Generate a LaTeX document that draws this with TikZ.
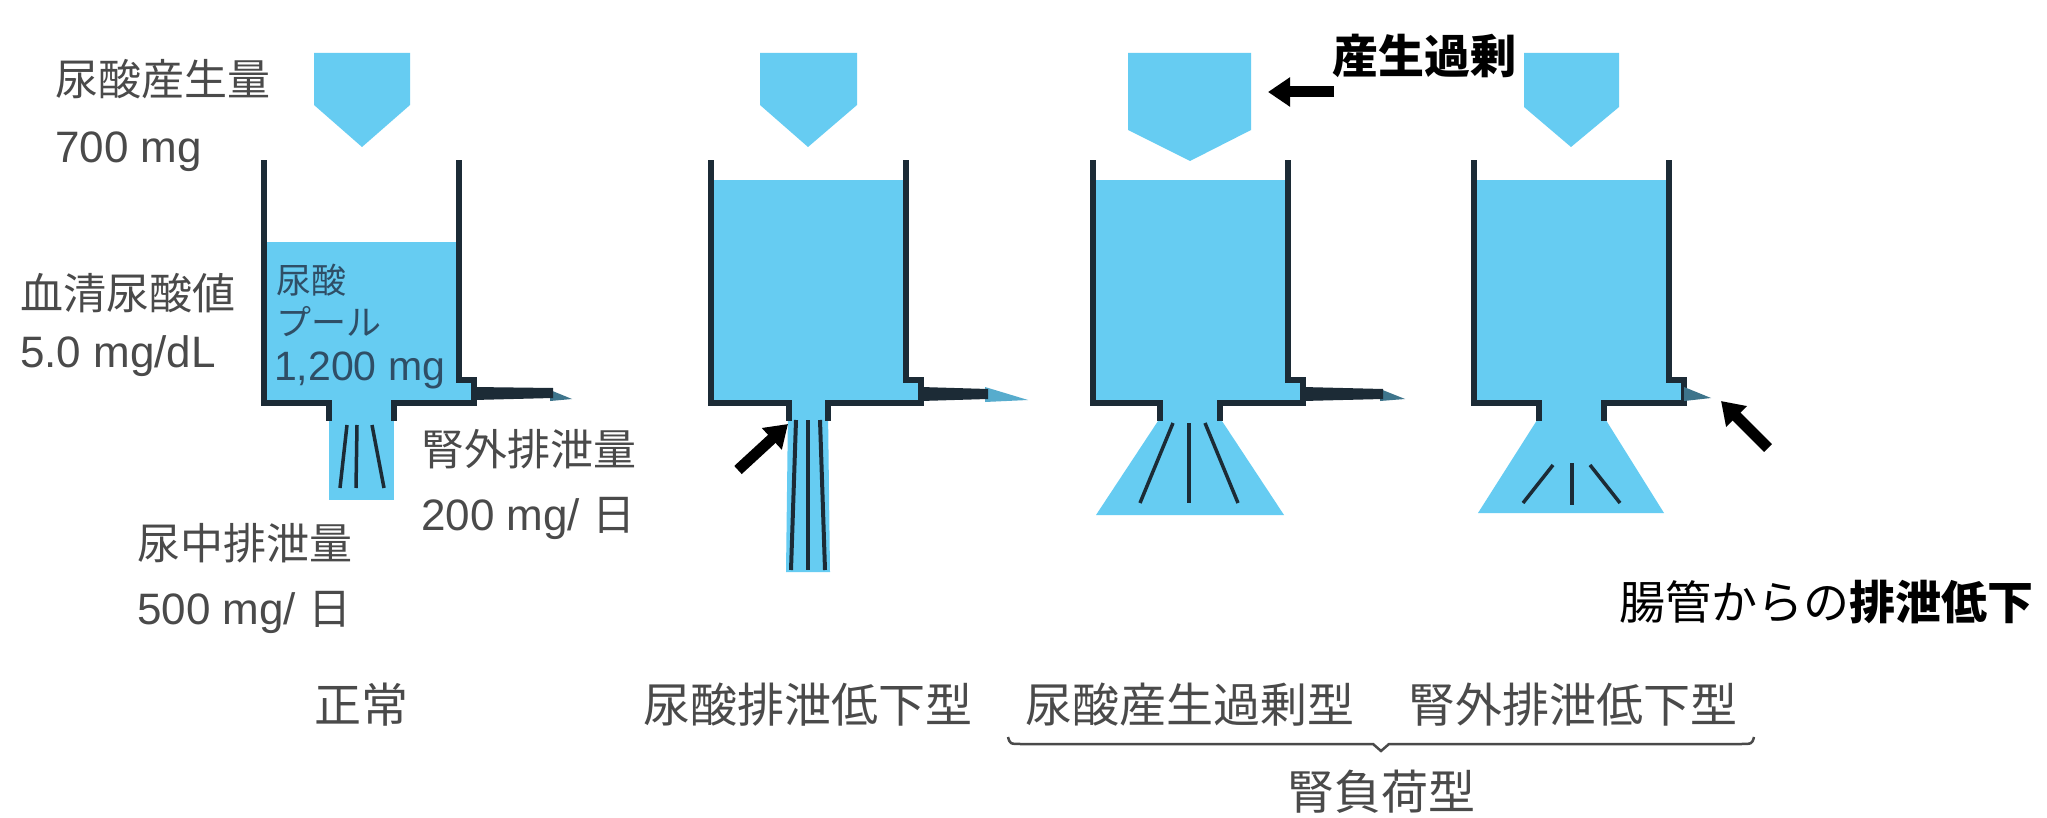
\documentclass[tikz,border=0pt]{standalone}
\usepackage{fontspec}
\setmainfont{Liberation Sans}
\newfontfamily\jp{Noto Sans CJK JP}
\usetikzlibrary{arrows.meta}
\definecolor{water}{HTML}{66CCF2}
\definecolor{wall}{HTML}{1C2B36}
\definecolor{lbl}{HTML}{4A4A4A}
\definecolor{pooltxt}{HTML}{2F4E66}
\newcommand\latin{\rmfamily\fontsize{44}{48}\selectfont}
\newcommand\tankbody[5]{%
  \fill[water] (#1,#5) rectangle (#2,403);
  \fill[water] (#2,380) rectangle (#2+15,403);
  \fill[water] (#3,400) rectangle (#4,418);
  \draw[wallline] (#1,163) -- (#1,403) -- (#3,403) -- (#3,418);
  \draw[wallline] (#4,418) -- (#4,403) -- (#2+15,403) -- (#2+15,380) -- (#2,380) -- (#2,163);
}
\begin{document}
\begin{tikzpicture}[x=1pt,y=-1pt,
  lab/.style={inner sep=0pt, anchor=west, text=lbl, font=\jp\fontsize{43}{48}\selectfont,
              text height=36pt, text depth=6pt},
  captext/.style={inner sep=0pt, anchor=center, text=lbl, font=\jp\fontsize{47}{52}\selectfont,
              text height=40pt, text depth=6pt},
  pooltext/.style={inner sep=0pt, anchor=west, text=pooltxt, font=\jp\fontsize{35}{38}\selectfont,
              text height=29pt, text depth=5pt},
  note/.style={inner sep=0pt, anchor=west, text=black, font=\jp\fontsize{46}{50}\selectfont,
              text height=39pt, text depth=6pt},
  wallline/.style={draw=wall, line width=6pt, line join=miter, line cap=rect},
  flow/.style={draw=wall, line width=3.5pt},
  pointer/.style={draw=black, line width=11pt, -{Triangle[length=22pt,width=28pt]}},
  brace/.style={draw=lbl, line width=2.5pt}
]
\useasboundingbox (0,0) rectangle (2047,818);
\fill[white] (0,0) rectangle (2047,818);

% ---------- Tank 1 (normal)
\fill[water] (314,53) -- (410,53) -- (410,105) -- (362,147) -- (314,105) -- cycle;
\fill[water] (329,410) rectangle (394,500);
\tankbody{264}{459}{329}{394}{242}
\draw[flow] (347,425) -- (340,488);
\draw[flow] (357,425) -- (356,488);
\draw[flow] (372,425) -- (384,488);
\fill[water!45!wall] (550,390) -- (572,399) -- (550,401) -- cycle;
\fill[wall] (474,387) -- (553,388) -- (553,398) -- (474,400) -- cycle;

% ---------- Tank 2
\fill[water] (760,53) -- (857,53) -- (857,105) -- (808,147) -- (760,105) -- cycle;
\fill[water] (788,410) -- (828,410) -- (830,572) -- (786,572) -- cycle;
\tankbody{711}{906}{789}{828}{180}
\draw[flow, line width=4pt] (796,420) -- (791,570);
\draw[flow, line width=4pt] (808,420) -- (808,570);
\draw[flow, line width=4pt] (820,420) -- (825,570);
\fill[water!80!wall] (985,387) -- (1028,400) -- (985,402) -- cycle;
\fill[wall] (921,387) -- (988,389) -- (988,399) -- (921,401) -- cycle;

% ---------- Tank 3
\fill[water] (1128,53) -- (1251,53) -- (1251,130) -- (1190,161) -- (1128,130) -- cycle;
\fill[water] (1160,410) -- (1220,410) -- (1220,418) -- (1284,515) -- (1096,515) -- (1160,418) -- cycle;
\tankbody{1093}{1288}{1160}{1220}{180}
\draw[flow] (1173,423) -- (1140,503);
\draw[flow] (1189,423) -- (1189,503);
\draw[flow] (1205,423) -- (1238,503);
\fill[water!45!wall] (1380,389) -- (1405,399) -- (1380,401) -- cycle;
\fill[wall] (1303,387) -- (1383,389) -- (1383,399) -- (1303,401) -- cycle;

% ---------- Tank 4
\fill[water] (1524,53) -- (1619,53) -- (1619,107) -- (1571,147) -- (1524,107) -- cycle;
\fill[water] (1539,410) -- (1604,410) -- (1604,417) -- (1664,513) -- (1478,513) -- (1539,417) -- cycle;
\tankbody{1474}{1669}{1539}{1604}{180}
\draw[flow] (1553,465) -- (1523,503);
\draw[flow] (1572,463) -- (1572,505);
\draw[flow] (1590,465) -- (1620,503);
\fill[water!45!wall] (1684,387) -- (1711,398) -- (1684,401) -- cycle;

% ---------- labels of the normal tank
\node[lab] (prod) at (55,81) {尿酸産生量};
\node[lab] (prodv) at (55,148) {\latin 700 mg};
\node[lab] (serum) at (20,294) {血清尿酸値};
\node[lab] (serumv) at (20,352) {\latin 5.0 mg/dL};
\node[pooltext] (pool1) at (276,282) {尿酸};
\node[pooltext] (pool2) at (276,323) {プール};
\node[pooltext] (pool3) at (274,368) {\rmfamily\fontsize{41}{44}\selectfont 1,200 mg};
\node[lab] (extra) at (421,450) {腎外排泄量};
\node[lab] (extrav) at (421,515) {{\latin 200 mg/ }日};
\node[lab] (urine) at (137,544) {尿中排泄量};
\node[lab] (urinev) at (137,609) {{\latin 500 mg/ }日};

% ---------- captions
\node[captext] (c1) at (361,705) {正常};
\node[captext] (c2) at (808,705) {尿酸排泄低下型};
\node[captext] (c3) at (1190,705) {尿酸産生過剰型};
\node[captext] (c4) at (1573,705) {腎外排泄低下型};
\node[captext] (c34) at (1381,792) {腎負荷型};
\coordinate (bl) at (1008,737);
\coordinate (br) at (1754,737);
\coordinate (bm) at (1381,751);
\draw[brace] (bl) .. controls (1010,744) .. (1022,744) -- (1373,744) -- (bm) -- (1389,744) -- (1740,744) .. controls (1752,744) .. (br);

% ---------- black notes and pointers
\node[note, font=\jp\bfseries\fontsize{46}{50}\selectfont] (over) at (1332,57) {産生過剰};
\node[note] (gut) at (1619,603) {腸管からの{\bfseries 排泄低下}};
\coordinate (a2s) at (738,470);
\coordinate (a2e) at (788,424);
\draw[pointer] (a2s) -- (a2e);
\coordinate (a3s) at (1334,92);
\coordinate (a3e) at (1268,92);
\draw[pointer] (a3s) -- (a3e);
\coordinate (a4s) at (1768,448);
\coordinate (a4e) at (1721,401);
\draw[pointer] (a4s) -- (a4e);
\end{tikzpicture}
\end{document}
